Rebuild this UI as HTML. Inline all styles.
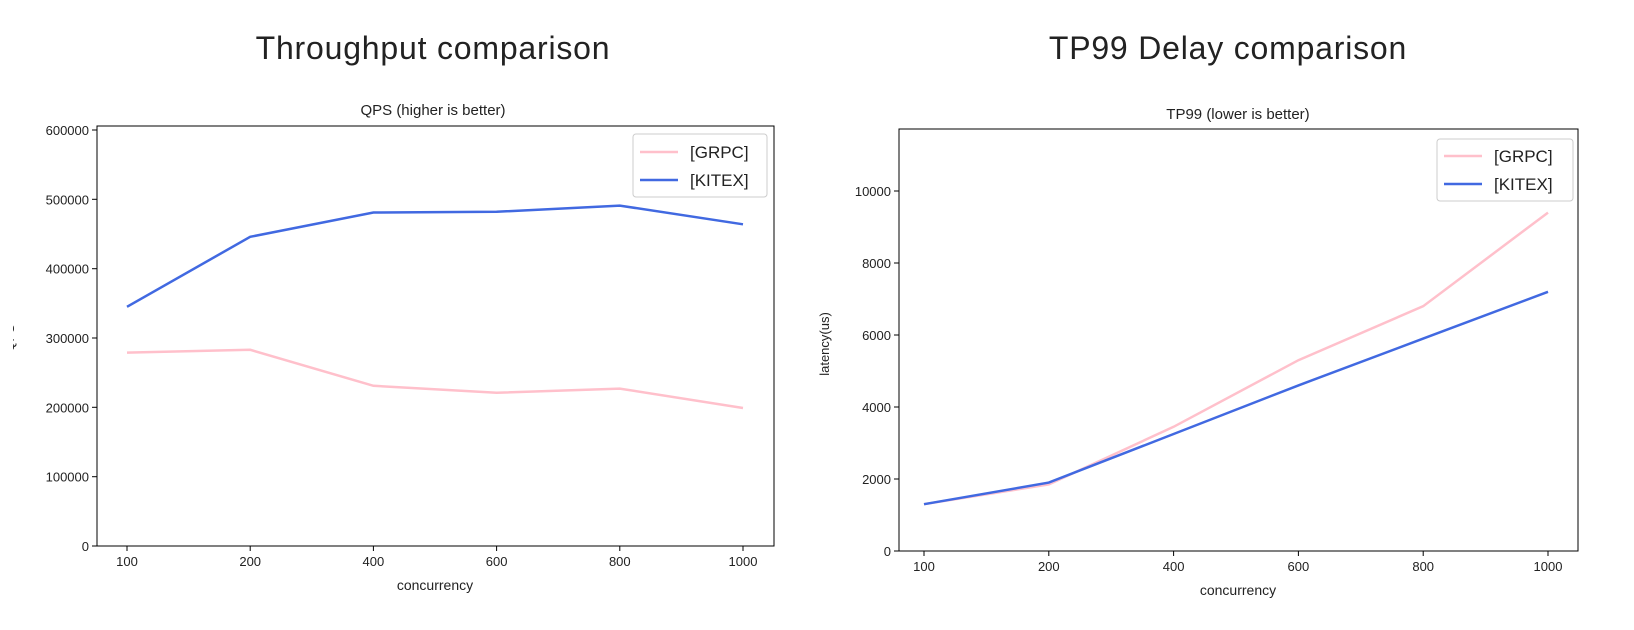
<!DOCTYPE html>
<html><head><meta charset="utf-8"><style>
html,body{margin:0;padding:0;background:#fff;}
svg{display:block;}
text{font-family:"Liberation Sans","DejaVu Sans",sans-serif;fill:#222;}
</style></head><body>
<svg width="1634" height="630" xmlns="http://www.w3.org/2000/svg">
<rect width="1634" height="630" fill="#fff"/>
<text x="433" y="59" font-size="32" letter-spacing="0.8" text-anchor="middle">Throughput comparison</text>
<text x="1228" y="59" font-size="32" letter-spacing="0.8" text-anchor="middle">TP99 Delay comparison</text>

<!-- LEFT -->
<text x="433" y="115" font-size="15" text-anchor="middle">QPS (higher is better)</text>
<rect x="97" y="126" width="677" height="420" fill="none" stroke="#000" stroke-width="1"/>
<g font-size="13" text-anchor="end">
<line x1="92" y1="546" x2="97" y2="546" stroke="#000"/><text x="89" y="551">0</text>
<line x1="92" y1="476.7" x2="97" y2="476.7" stroke="#000"/><text x="89" y="481.7">100000</text>
<line x1="92" y1="407.3" x2="97" y2="407.3" stroke="#000"/><text x="89" y="412.3">200000</text>
<line x1="92" y1="338" x2="97" y2="338" stroke="#000"/><text x="89" y="343">300000</text>
<line x1="92" y1="268.7" x2="97" y2="268.7" stroke="#000"/><text x="89" y="273.7">400000</text>
<line x1="92" y1="199.3" x2="97" y2="199.3" stroke="#000"/><text x="89" y="204.3">500000</text>
<line x1="92" y1="130" x2="97" y2="130" stroke="#000"/><text x="89" y="135">600000</text>
</g>
<g font-size="13" text-anchor="middle">
<line x1="127" y1="546" x2="127" y2="551" stroke="#000"/><text x="127" y="566">100</text>
<line x1="250.2" y1="546" x2="250.2" y2="551" stroke="#000"/><text x="250.2" y="566">200</text>
<line x1="373.4" y1="546" x2="373.4" y2="551" stroke="#000"/><text x="373.4" y="566">400</text>
<line x1="496.6" y1="546" x2="496.6" y2="551" stroke="#000"/><text x="496.6" y="566">600</text>
<line x1="619.8" y1="546" x2="619.8" y2="551" stroke="#000"/><text x="619.8" y="566">800</text>
<line x1="743" y1="546" x2="743" y2="551" stroke="#000"/><text x="743" y="566">1000</text>
</g>
<text x="435" y="590" font-size="14" text-anchor="middle">concurrency</text>
<text transform="translate(14,338) rotate(-90)" font-size="13" text-anchor="middle">QPS</text>
<rect x="0" y="300" width="13" height="80" fill="#fff"/>
<polyline fill="none" stroke="#ffc0cb" stroke-width="2.5" points="127,352.6 250.2,349.8 373.4,385.8 496.6,392.8 619.8,388.6 743,408"/>
<polyline fill="none" stroke="#4169e1" stroke-width="2.5" points="127,306.8 250.2,236.8 373.4,212.5 496.6,211.8 619.8,205.6 743,224.3"/>
<rect x="633" y="134" width="134" height="63" rx="3" fill="#fff" stroke="#ccc"/>
<line x1="640" y1="152" x2="678" y2="152" stroke="#ffc0cb" stroke-width="2.5"/>
<text x="690" y="158" font-size="17">[GRPC]</text>
<line x1="640" y1="180" x2="678" y2="180" stroke="#4169e1" stroke-width="2.5"/>
<text x="690" y="186" font-size="17">[KITEX]</text>

<!-- RIGHT -->
<text x="1238" y="119" font-size="15" text-anchor="middle">TP99 (lower is better)</text>
<rect x="899" y="129" width="679" height="422" fill="none" stroke="#000" stroke-width="1"/>
<g font-size="13" text-anchor="end">
<line x1="894" y1="551" x2="899" y2="551" stroke="#000"/><text x="891" y="556">0</text>
<line x1="894" y1="479" x2="899" y2="479" stroke="#000"/><text x="891" y="484">2000</text>
<line x1="894" y1="407" x2="899" y2="407" stroke="#000"/><text x="891" y="412">4000</text>
<line x1="894" y1="335" x2="899" y2="335" stroke="#000"/><text x="891" y="340">6000</text>
<line x1="894" y1="263" x2="899" y2="263" stroke="#000"/><text x="891" y="268">8000</text>
<line x1="894" y1="191" x2="899" y2="191" stroke="#000"/><text x="891" y="196">10000</text>
</g>
<g font-size="13" text-anchor="middle">
<line x1="924" y1="551" x2="924" y2="556" stroke="#000"/><text x="924" y="571">100</text>
<line x1="1048.8" y1="551" x2="1048.8" y2="556" stroke="#000"/><text x="1048.8" y="571">200</text>
<line x1="1173.6" y1="551" x2="1173.6" y2="556" stroke="#000"/><text x="1173.6" y="571">400</text>
<line x1="1298.4" y1="551" x2="1298.4" y2="556" stroke="#000"/><text x="1298.4" y="571">600</text>
<line x1="1423.2" y1="551" x2="1423.2" y2="556" stroke="#000"/><text x="1423.2" y="571">800</text>
<line x1="1548" y1="551" x2="1548" y2="556" stroke="#000"/><text x="1548" y="571">1000</text>
</g>
<text x="1238" y="595" font-size="14" text-anchor="middle">concurrency</text>
<text transform="translate(829,344) rotate(-90)" font-size="13" text-anchor="middle">latency(us)</text>
<polyline fill="none" stroke="#ffc0cb" stroke-width="2.5" points="924,504.2 1048.8,484.4 1173.6,426.8 1298.4,360.2 1423.2,306.2 1548,212.6"/>
<polyline fill="none" stroke="#4169e1" stroke-width="2.5" points="924,504.2 1048.8,482.6 1173.6,434 1298.4,385.4 1423.2,338.6 1548,291.8"/>
<rect x="1437" y="139" width="136" height="62" rx="3" fill="#fff" stroke="#ccc"/>
<line x1="1444" y1="156" x2="1482" y2="156" stroke="#ffc0cb" stroke-width="2.5"/>
<text x="1494" y="162" font-size="17">[GRPC]</text>
<line x1="1444" y1="184" x2="1482" y2="184" stroke="#4169e1" stroke-width="2.5"/>
<text x="1494" y="190" font-size="17">[KITEX]</text>
</svg>
</body></html>
